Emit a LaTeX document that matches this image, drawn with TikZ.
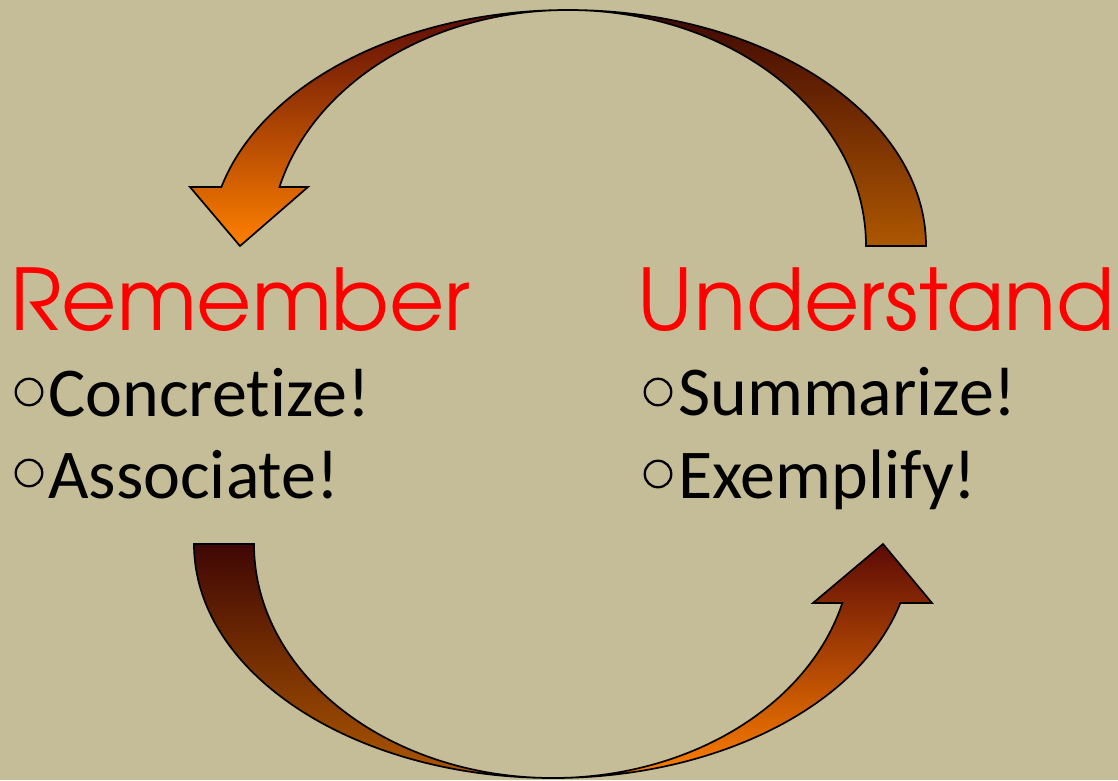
\documentclass[tikz,border=0pt]{standalone}
\usepackage{fontspec}
\setmainfont{Carlito}[Ligatures=NoCommon]
\newfontfamily\headfont{TeX Gyre Adventor}
\usetikzlibrary{calc}

\definecolor{bgtan}{HTML}{C4BD97}
\definecolor{arrowtop}{RGB}{92,10,6}
\definecolor{arrowbot}{RGB}{255,128,0}
\definecolor{arrowtopdark}{RGB}{63,7,4}
\definecolor{arrowbotdark}{RGB}{173,87,0}

\tikzset{
  front part/.style={draw=black, line width=1.7pt, top color=arrowtop, bottom color=arrowbot},
  back part/.style={draw=black, line width=1.7pt, top color=arrowtopdark, bottom color=arrowbotdark},
  heading/.style={anchor=base west, inner sep=0pt, text=red, font=\headfont\fontsize{85}{85}\selectfont},
  item/.style={anchor=base west, inner sep=0pt, text=black, font=\fontsize{70}{70}\selectfont},
  bulletmark/.style={circle, draw=black, line width=2.3pt, minimum size=26.5pt, inner sep=0pt}
}

\begin{document}
\begin{tikzpicture}[x=1pt, y=-1pt]
  % page
  \fill[bgtan] (0,0) rectangle (1118,780);
  \useasboundingbox (0,0) rectangle (1118,780);

  % upper curved arrow: centre of its two elliptical bands
  \coordinate (tc) at (568,246);
  % tail band (shaded darker)
  \path[back part] ($(tc)+(0:358 and 236)$)
      arc[start angle=0, end angle=-90, x radius=358, y radius=236]
      arc[start angle=-90, end angle=0, x radius=298, y radius=236] -- cycle;
  % head band with the arrowhead
  \path[front part] ($(tc)+(194.48:358 and 236)$)
      arc[start angle=194.48, end angle=270, x radius=358, y radius=236]
      arc[start angle=270, end angle=194.48, x radius=298, y radius=236]
      -- (308,187) -- (240,246) -- (190,187) -- cycle;

  % lower curved arrow
  \coordinate (bc) at (553,544);
  % tail band (shaded darker)
  \path[back part] ($(bc)+(180:359 and 234)$)
      arc[start angle=180, end angle=90, x radius=359, y radius=234]
      arc[start angle=90, end angle=180, x radius=299, y radius=234] -- cycle;
  % head band with the arrowhead
  \path[front part] ($(bc)+(14.6:359 and 234)$)
      arc[start angle=14.6, end angle=90, x radius=359, y radius=234]
      arc[start angle=90, end angle=14.6, x radius=299, y radius=234]
      -- (813,603) -- (883,544) -- (932,603) -- cycle;

  % headings
  \node[heading] (remember) at (10,330) {Remember};
  \node[heading] (understand) at (637,330) {Understand};

  % bullet lists
  \node[bulletmark] (bl1) at (29,392) {};
  \node[bulletmark] (bl2) at (29,473) {};
  \node[bulletmark] (br1) at (658,392) {};
  \node[bulletmark] (br2) at (658,474) {};

  \node[item] (concretize) at (48,416) {Concretize!};
  \node[item] (associate) at (48,498) {Associate!};
  \node[item] (summarize) at (678,415) {Summarize!};
  \node[item] (exemplify) at (678,498) {Exemplify!};
\end{tikzpicture}
\end{document}
